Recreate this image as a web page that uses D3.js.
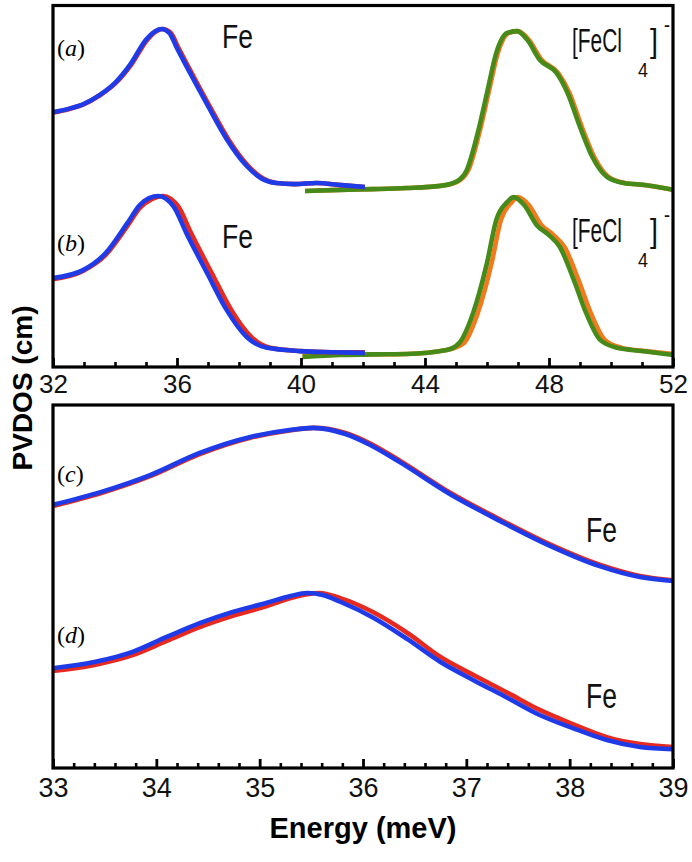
<!DOCTYPE html>
<html>
<head>
<meta charset="utf-8">
<script src="https://cdn.jsdelivr.net/npm/d3@7"></script>
<style>
  html, body { margin: 0; padding: 0; background: #fff; }
  svg { display: block; }
</style>
</head>
<body>
<svg id="chart" width="692" height="862"></svg>
<script>
// ---------- DATA (energy in meV, PVDOS in arbitrary offset units) ----------
const topTicks = [32, 36, 40, 44, 48, 52];
const bottomTicks = [33, 34, 35, 36, 37, 38, 39];

// panel (a): Fe
const aFeE     = [32.0, 32.5, 33.0, 33.5, 34.0, 34.5, 35.0, 35.3, 35.5, 35.75, 36.0, 36.3, 36.7, 37.0, 37.6, 38.25, 38.7, 39.2, 39.8, 40.5, 41.3, 42.06];
const aFeBlue  = [7.05, 7.14, 7.28, 7.52, 7.86, 8.38, 9.05, 9.29, 9.35, 9.24, 8.82, 8.33, 7.69, 7.22, 6.31, 5.56, 5.23, 5.09, 5.06, 5.09, 5.03, 4.98];
const aFeRedE  = [32.0, 32.5, 33.0, 33.5, 34.02, 34.53, 35.03, 35.33, 35.54, 35.8, 36.05, 36.35, 36.75, 37.05, 37.65, 38.3, 38.75, 39.2, 39.8, 40.5, 41.3, 42.06];
const aFeRed   = [7.04, 7.13, 7.27, 7.51, 7.85, 8.37, 9.04, 9.29, 9.35, 9.24, 8.82, 8.33, 7.69, 7.22, 6.31, 5.56, 5.23, 5.09, 5.06, 5.09, 5.03, 4.98];
// panel (a): [FeCl4]-
const aClE     = [40.13, 41.26, 42.3, 43.4, 44.5, 45.0, 45.35, 45.7, 46.0, 46.3, 46.65, 46.97, 47.3, 47.7, 48.25, 48.6, 49.0, 49.4, 49.87, 50.4, 51.15, 52.0];
const aClGreen = [4.87, 4.90, 4.92, 4.95, 5.01, 5.12, 5.45, 6.47, 7.58, 8.69, 9.24, 9.29, 9.05, 8.50, 8.13, 7.58, 6.64, 5.81, 5.26, 5.09, 5.03, 4.90];
const aClOrE   = [40.13, 41.26, 42.3, 43.4, 44.5, 45.03, 45.4, 45.75, 46.05, 46.35, 46.7, 47.0, 47.35, 47.76, 48.3, 48.66, 49.06, 49.46, 49.92, 50.45, 51.15, 52.0];
const aClOrange= [4.87, 4.90, 4.92, 4.95, 5.01, 5.12, 5.45, 6.47, 7.58, 8.69, 9.24, 9.29, 9.05, 8.50, 8.13, 7.58, 6.64, 5.81, 5.26, 5.09, 5.03, 4.90];

// panel (b): Fe
const bFeE     = [32.0, 32.97, 33.7, 34.4, 34.8, 35.1, 35.4, 35.65, 35.9, 36.3, 36.97, 37.6, 38.25, 38.9, 39.97, 41.0, 42.06];
const bFeBlue  = [2.46, 2.68, 3.15, 3.98, 4.48, 4.67, 4.73, 4.65, 4.43, 3.71, 2.60, 1.58, 0.83, 0.53, 0.44, 0.41, 0.39];
const bFeRedE  = [32.0, 32.97, 33.7, 34.4, 34.8, 35.2, 35.55, 35.8, 36.05, 36.45, 37.12, 37.75, 38.4, 39.0, 39.97, 41.0, 42.06];
const bFeRed   = [2.43, 2.66, 3.10, 3.90, 4.40, 4.65, 4.73, 4.65, 4.43, 3.71, 2.60, 1.58, 0.83, 0.53, 0.44, 0.41, 0.41];
// panel (b): [FeCl4]-
const bClE     = [40.05, 41.26, 42.3, 43.4, 44.7, 45.1, 45.55, 46.0, 46.3, 46.65, 46.85, 47.2, 47.6, 48.0, 48.35, 48.8, 49.2, 49.65, 50.2, 51.0, 52.0];
const bClGreen = [0.28, 0.33, 0.35, 0.36, 0.47, 0.66, 1.49, 2.88, 4.07, 4.56, 4.70, 4.48, 3.93, 3.65, 3.32, 2.41, 1.49, 0.75, 0.53, 0.44, 0.33];
const bClOrE   = [40.05, 41.26, 42.3, 43.4, 44.7, 45.25, 45.7, 46.15, 46.45, 46.8, 46.98, 47.35, 47.75, 48.15, 48.5, 48.95, 49.35, 49.8, 50.35, 51.1, 52.0];
const bClOrange= [0.30, 0.34, 0.35, 0.36, 0.47, 0.66, 1.49, 2.88, 4.07, 4.56, 4.70, 4.48, 3.93, 3.65, 3.32, 2.41, 1.49, 0.75, 0.53, 0.44, 0.36];

// panel (c): Fe
const cE       = [33.0, 33.46, 33.94, 34.42, 34.91, 35.29, 35.52, 35.83, 36.07, 36.36, 36.84, 37.33, 37.81, 38.29, 38.68, 39.0];
const cBlue    = [7.25, 7.60, 8.07, 8.68, 9.12, 9.31, 9.37, 9.20, 8.90, 8.42, 7.55, 6.80, 6.12, 5.56, 5.26, 5.15];
const cRed     = [7.22, 7.57, 8.04, 8.65, 9.10, 9.30, 9.37, 9.23, 8.94, 8.46, 7.59, 6.84, 6.16, 5.60, 5.29, 5.17];

// panel (d): Fe
const dE       = [33.0, 33.4, 33.77, 34.1, 34.42, 34.74, 35.07, 35.3, 35.46, 35.62, 35.78, 36.1, 36.43, 36.75, 37.07, 37.4, 37.71, 38.03, 38.36, 38.68, 39.0];
const dBlue    = [2.75, 2.92, 3.20, 3.61, 3.99, 4.30, 4.55, 4.74, 4.82, 4.76, 4.58, 4.14, 3.55, 2.92, 2.42, 1.93, 1.46, 1.10, 0.77, 0.58, 0.52];
const dRedE    = [33.0, 33.4, 33.77, 34.1, 34.42, 34.74, 35.07, 35.3, 35.46, 35.58, 35.78, 36.1, 36.43, 36.75, 37.07, 37.4, 37.71, 38.03, 38.36, 38.68, 39.0];
const dRed     = [2.67, 2.84, 3.11, 3.50, 3.88, 4.19, 4.46, 4.68, 4.79, 4.82, 4.68, 4.29, 3.72, 3.06, 2.56, 2.07, 1.60, 1.21, 0.85, 0.66, 0.58];

// ---------- STYLE ----------
const BLUE = "#1f3be8", RED = "#e8291f", GREEN = "#468a1a", ORANGE = "#f27a1c";
const LW = 4.6;

const svg = d3.select("#chart");
const X0 = 53, X1 = 673;
const topP = { y0: 5.5, y1: 367 };
const botP = { y0: 405, y1: 768 };

const xTop = d3.scaleLinear().domain([32, 52]).range([X0, X1]);
const yTop = d3.scaleLinear().domain([0, 10]).range([topP.y1, topP.y0]);
const xBot = d3.scaleLinear().domain([33, 39]).range([X0, X1]);
const yBot = d3.scaleLinear().domain([0, 10]).range([botP.y1, botP.y0]);

function drawLine(xs, ys, xScale, yScale, color) {
  const pts = xs.map((e, i) => [e, ys[i]]);
  const line = d3.line()
    .x(d => xScale(d[0]))
    .y(d => yScale(d[1]))
    .curve(d3.curveMonotoneX);
  svg.append("path")
    .attr("d", line(pts))
    .attr("fill", "none")
    .attr("stroke", color)
    .attr("stroke-width", LW)
    .attr("stroke-linejoin", "round")
    .attr("stroke-linecap", "butt");
}

// top panel curves
drawLine(aClOrE, aClOrange, xTop, yTop, ORANGE);
drawLine(aClE, aClGreen, xTop, yTop, GREEN);
drawLine(aFeRedE, aFeRed, xTop, yTop, RED);
drawLine(aFeE, aFeBlue, xTop, yTop, BLUE);
drawLine(bClOrE, bClOrange, xTop, yTop, ORANGE);
drawLine(bClE, bClGreen, xTop, yTop, GREEN);
drawLine(bFeRedE, bFeRed, xTop, yTop, RED);
drawLine(bFeE, bFeBlue, xTop, yTop, BLUE);

// bottom panel curves
drawLine(cE, cRed, xBot, yBot, RED);
drawLine(cE, cBlue, xBot, yBot, BLUE);
drawLine(dRedE, dRed, xBot, yBot, RED);
drawLine(dE, dBlue, xBot, yBot, BLUE);

// frames
[topP, botP].forEach(p => {
  svg.append("rect")
    .attr("x", X0).attr("y", p.y0)
    .attr("width", X1 - X0).attr("height", p.y1 - p.y0)
    .attr("fill", "none").attr("stroke", "#000").attr("stroke-width", 3.2);
});

// axes
function addAxis(xScale, yPos, majors, minorStep, fontSize, pad) {
  const dom = xScale.domain();
  const minors = d3.range(dom[0], dom[1] + minorStep / 2, minorStep)
    .map(v => +v.toFixed(4))
    .filter(v => !majors.some(m => Math.abs(m - v) < 1e-6));
  const gMin = svg.append("g").attr("transform", `translate(0,${yPos})`)
    .call(d3.axisBottom(xScale).tickValues(minors).tickSize(-5).tickFormat(""));
  gMin.select(".domain").remove();
  gMin.selectAll("line").attr("stroke", "#000").attr("stroke-width", 2.6);
  const gMaj = svg.append("g").attr("transform", `translate(0,${yPos})`)
    .call(d3.axisBottom(xScale).tickValues(majors).tickSize(-9).tickPadding(pad).tickFormat(d3.format("d")));
  gMaj.select(".domain").remove();
  gMaj.selectAll("line").attr("stroke", "#000").attr("stroke-width", 2.8);
  gMaj.selectAll("text")
    .attr("font-family", "'Liberation Sans', Arial, sans-serif")
    .attr("font-size", fontSize)
    .attr("fill", "#111");
}
addAxis(xTop, topP.y1, topTicks, 1, 26, 7.5);
addAxis(xBot, botP.y1, bottomTicks, 0.2, 27, 10);

// axis titles
svg.append("text")
  .attr("transform", "translate(32,388) rotate(-90)")
  .attr("text-anchor", "middle")
  .attr("font-family", "'Liberation Sans', Arial, sans-serif")
  .attr("font-weight", "bold")
  .attr("font-size", 28)
  .text("PVDOS (cm)");
svg.append("text")
  .attr("x", 363).attr("y", 838)
  .attr("text-anchor", "middle")
  .attr("font-family", "'Liberation Sans', Arial, sans-serif")
  .attr("font-weight", "bold")
  .attr("font-size", 29)
  .text("Energy (meV)");

// panel labels (a)-(d)
function panelLabel(letter, x, y) {
  const t = svg.append("text").attr("x", x).attr("y", y)
    .attr("font-family", "'Liberation Serif', 'Times New Roman', serif")
    .attr("font-size", 24);
  t.append("tspan").text("(");
  t.append("tspan").attr("font-style", "italic").text(letter);
  t.append("tspan").text(")");
}
panelLabel("a", 57, 56);
panelLabel("b", 57, 251);
panelLabel("c", 57, 482);
panelLabel("d", 57, 643);

// species labels: narrow sans look via horizontal scaling
const SANS = "'Liberation Sans', Arial, sans-serif";
function narrowText(str, x, y, size, len) {
  const t = svg.append("text")
    .attr("font-family", SANS).attr("font-size", size).attr("fill", "#111")
    .text(str);
  const w = t.node().getComputedTextLength() || len;
  t.attr("transform", `translate(${x},${y}) scale(${len / w},1)`);
}
narrowText("Fe", 222, 48, 34, 31);
narrowText("Fe", 222, 248, 34, 31);
narrowText("Fe", 586, 542, 36, 31);
narrowText("Fe", 586, 708, 36, 31);

function feclLabel(x, y) {
  narrowText("[FeCl", x, y, 34, 50);
  narrowText("4", x + 66, y + 25, 21, 10);
  narrowText("]", x + 78, y, 34, 8);
  narrowText("-", x + 92, y - 20, 22, 6);
}
feclLabel(572, 52);
feclLabel(572, 242);
</script>
</body>
</html>
